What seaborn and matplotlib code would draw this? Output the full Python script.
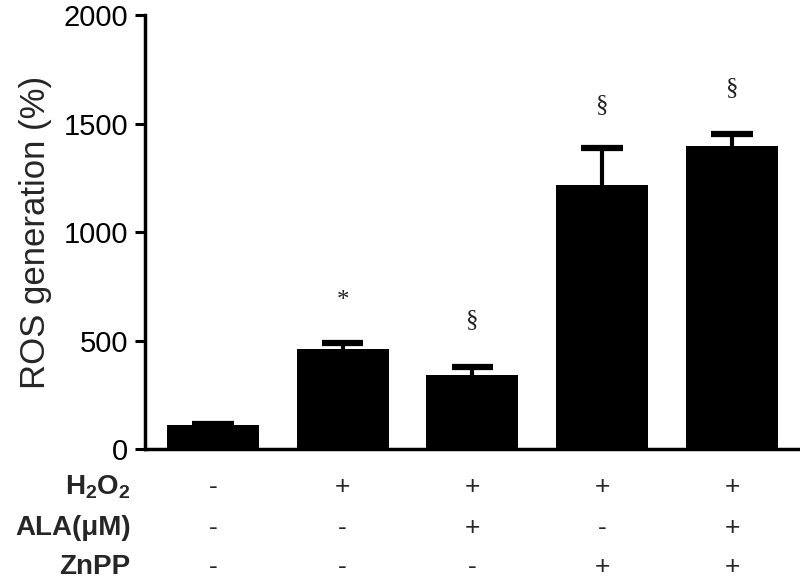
import matplotlib
matplotlib.use("Agg")
import matplotlib.pyplot as plt
import matplotlib.transforms as mtransforms
import numpy as np
import seaborn as sns

# treatment groups and measured ROS values (% of control)
groups = ["ctrl", "H2O2", "H2O2+ALA", "H2O2+ZnPP", "H2O2+ALA+ZnPP"]
means = [112, 460, 340, 1217, 1397]
errors = [5, 30, 38, 170, 56]
marks = ["", "*", "§", "§", "§"]
mark_heights = [0, 682, 594, 1585, 1663]

# treatment table under the axis
row_labels = [r"H$_\mathbf{2}$O$_\mathbf{2}$", "ALA(μM)", "ZnPP"]
h2o2 = ["-", "+", "+", "+", "+"]
ala = ["-", "-", "+", "-", "+"]
znpp = ["-", "-", "-", "+", "+"]

sns.set_theme(style="ticks")
plt.rcParams["font.family"] = ["Liberation Sans", "DejaVu Sans"]
plt.rcParams["mathtext.fontset"] = "custom"
plt.rcParams["mathtext.rm"] = "Liberation Sans:bold"
plt.rcParams["mathtext.bf"] = "Liberation Sans:bold"

fig = plt.figure(figsize=(8, 5.82), dpi=100)
ax = fig.add_axes([0.181, 0.2285, 0.819, 0.7455])

sns.barplot(x=groups, y=means, color="black", saturation=1, width=0.71,
            edgecolor="black", linewidth=0, ax=ax)

# upper-only error bars with caps
xs = np.arange(len(groups))
tops = np.array(means) + np.array(errors)
ax.vlines(xs, means, tops, color="black", linewidth=3, zorder=3)
ax.hlines(tops, xs - 0.16, xs + 0.16, color="black", linewidth=4.5, zorder=3)

for i, (m, h) in enumerate(zip(marks, mark_heights)):
    if m:
        ax.text(i, h, m, ha="center", va="center", fontsize=18,
                family=["Liberation Serif", "DejaVu Serif"], color="#222222")

ax.set_xlim(-0.524, 4.524)
ax.set_ylim(0, 2000)
ax.set_yticks([0, 500, 1000, 1500, 2000])
ax.set_xticks([])
ax.set_xlabel("")
ax.set_ylabel("ROS generation (%)", fontsize=25, labelpad=8)
ax.tick_params(axis="y", labelsize=21, length=7, width=2.2, pad=5, colors="black")
for side in ["top", "right"]:
    ax.spines[side].set_visible(False)
for side in ["left", "bottom"]:
    ax.spines[side].set_linewidth(2.5)
    ax.spines[side].set_color("black")

# table rows
trans = mtransforms.blended_transform_factory(ax.transData, ax.transAxes)
row_y = [-0.088, -0.183, -0.272]
for label, signs, y in zip(row_labels, [h2o2, ala, znpp], row_y):
    ax.text(-0.0215, y, label, transform=ax.transAxes, ha="right", va="center",
            fontsize=20, fontweight="bold", clip_on=False)
    for i, s in enumerate(signs):
        ax.text(i, y, s, transform=trans, ha="center", va="center",
                fontsize=19, clip_on=False)

fig.savefig("out.png", dpi=100)
